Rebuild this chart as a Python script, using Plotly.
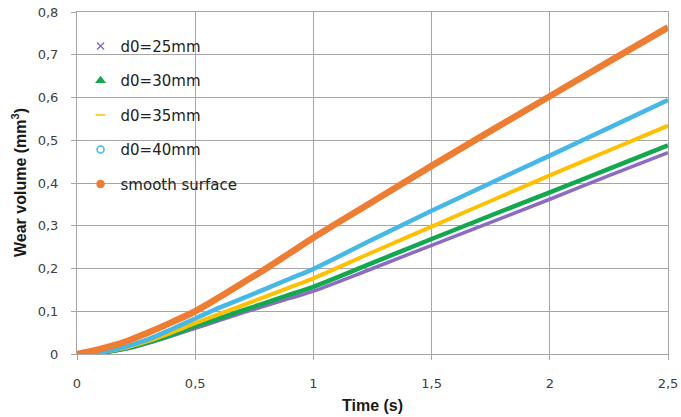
import plotly.graph_objects as go

time_s = [0, 0.1, 0.2, 0.3, 0.4, 0.5, 0.6, 0.7, 0.8, 0.9, 1.0, 1.25, 1.5, 1.75, 2.0, 2.25, 2.5]
d0_25 = [0, 0.003, 0.011, 0.025, 0.042, 0.060, 0.078, 0.096, 0.113, 0.130, 0.147, 0.200, 0.254, 0.308, 0.362, 0.417, 0.471]
d0_30 = [0, 0.003, 0.012, 0.027, 0.045, 0.065, 0.083, 0.102, 0.120, 0.139, 0.157, 0.213, 0.269, 0.324, 0.378, 0.433, 0.488]
d0_35 = [0, 0.004, 0.014, 0.030, 0.050, 0.072, 0.093, 0.114, 0.135, 0.156, 0.177, 0.238, 0.298, 0.358, 0.418, 0.476, 0.534]
d0_40 = [0, 0.004, 0.016, 0.034, 0.058, 0.083, 0.108, 0.130, 0.153, 0.176, 0.199, 0.268, 0.335, 0.400, 0.464, 0.529, 0.594]
smooth = [0, 0.012, 0.028, 0.050, 0.074, 0.100, 0.132, 0.166, 0.200, 0.236, 0.272, 0.356, 0.440, 0.522, 0.603, 0.684, 0.764]

series_names = ["d0=25mm", "d0=30mm", "d0=35mm", "d0=40mm", "smooth surface"]
series_values = [d0_25, d0_30, d0_35, d0_40, smooth]
colors = ["#8c6bc4", "#12a84e", "#ffc000", "#45b8e8", "#ee7d31"]
symbols = ["x-thin-open", "triangle-up", "line-ew-open", "circle-open", "circle"]
widths = [3.5, 4.5, 4, 4.5, 6.5]

x_ticks = [0, 0.5, 1, 1.5, 2, 2.5]
x_labels = ["0", "0,5", "1", "1,5", "2", "2,5"]
y_ticks = [0, 0.1, 0.2, 0.3, 0.4, 0.5, 0.6, 0.7, 0.8]
y_labels = ["0", "0,1", "0,2", "0,3", "0,4", "0,5", "0,6", "0,7", "0,8"]

x_title = "<b>Time (s)</b>"
y_title = "<b>Wear volume (mm<sup>3</sup>)</b>"

fig = go.Figure()
for name, vals, c, w in zip(series_names, series_values, colors, widths):
    fig.add_trace(go.Scatter(x=time_s, y=vals, mode="lines", line=dict(color=c, width=w, shape="spline"),
                             showlegend=False, hoverinfo="skip"))
for i, (name, c, s) in enumerate(zip(series_names, colors, symbols)):
    fig.add_trace(go.Scatter(x=[None], y=[None], mode="markers", name=name, legendgroup=str(i),
                             marker=dict(color=c, symbol=s, size=7, line=dict(color=c, width=1.5))))

grid = "#a6a6a6"
tickfont = dict(family="DejaVu Sans, Verdana, sans-serif", size=13, color="#404040")
titlefont = dict(family="Liberation Sans, Arial, sans-serif", size=16, color="#1a1a1a")
fig.update_layout(
    width=681, height=417,
    margin=dict(l=77, r=13, t=12, b=63),
    paper_bgcolor="white", plot_bgcolor="white",
    separators=", ",
    font=dict(family="DejaVu Sans, sans-serif", size=13, color="#404040"),
    legend=dict(x=0.006, y=0.948, xanchor="left", yanchor="top", bgcolor="rgba(0,0,0,0)",
                font=dict(family="DejaVu Sans, Verdana, sans-serif", size=15, color="#222222"),
                traceorder="grouped", tracegroupgap=12, itemwidth=30),
    xaxis=dict(range=[0, 2.5], tickvals=x_ticks, ticktext=x_labels, showgrid=True, gridcolor=grid, gridwidth=1,
               showline=True, linecolor=grid, linewidth=1, ticks="outside", ticklen=5, tickcolor=grid,
               mirror=True, zeroline=False, fixedrange=True, automargin=False, tickfont=tickfont,
               ticklabelstandoff=12, ticklabeloverflow="allow"),
    yaxis=dict(range=[0, 0.8], tickvals=y_ticks, ticktext=y_labels, showgrid=True, gridcolor=grid, gridwidth=1,
               showline=True, linecolor=grid, linewidth=1, ticks="outside", ticklen=5, tickcolor=grid,
               mirror=True, zeroline=False, fixedrange=True, automargin=False, tickfont=tickfont,
               ticklabelstandoff=10, ticklabeloverflow="allow"),
    annotations=[
        dict(text=x_title, xref="paper", yref="paper", x=0.5, y=0, xanchor="center", yanchor="middle",
             yshift=-51, showarrow=False, font=titlefont),
        dict(text=y_title, xref="paper", yref="paper", x=0, y=0.5, xanchor="center", yanchor="middle",
             xshift=-58, textangle=-90, showarrow=False, font=titlefont),
    ],
)
# remove the page's default 8px body margin so the 681x417 figure fills the window exactly
fig.write_html("out.html", config={"displayModeBar": False},
               post_script="document.body.style.margin='0';document.body.style.overflow='hidden';")
